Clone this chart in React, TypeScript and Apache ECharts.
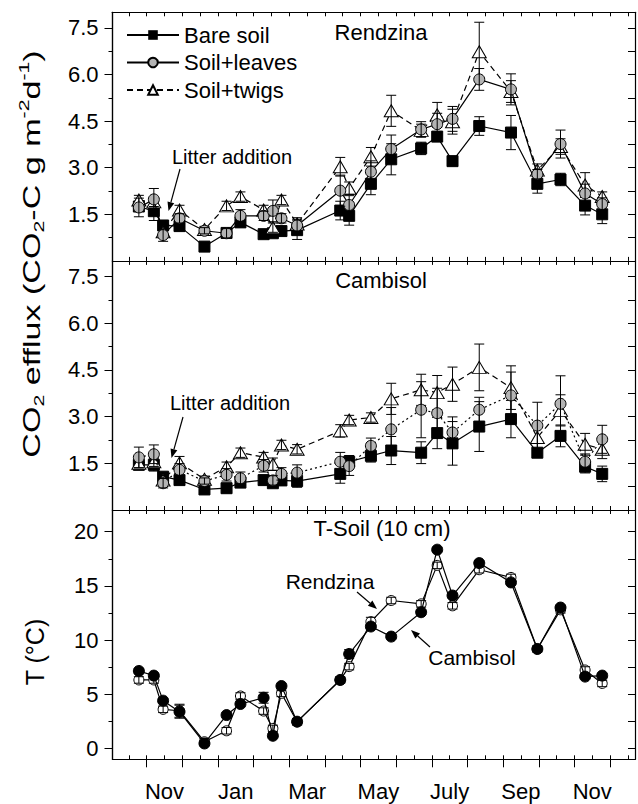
import React, { useEffect, useRef } from "react";
import * as echarts from "echarts";

// Sampling dates, in months counted from 1 November of the first year
const sampleMonths = [-0.22, 0.2, 0.46, 0.92, 1.62, 2.24, 2.63, 3.28, 3.54, 3.78, 4.22, 5.43, 5.68, 6.29, 6.86, 7.7, 8.15, 8.58, 9.33, 10.22, 10.96, 11.61, 12.3, 12.78];

// Rendzina CO2 efflux (CO2-C g m-2 d-1)
const rBare = [1.75, 1.6, 1.14, 1.12, 0.46, 0.9, 1.24, 0.86, 0.89, 0.96, 0.99, 1.62, 1.45, 2.48, 3.27, 3.62, 4.0, 3.21, 4.34, 4.13, 2.48, 2.62, 1.78, 1.5];
const rBareErr = [0.15, 0.3, 0.15, 0.15, 0.08, 0.1, 0.15, 0.08, 0.08, 0.08, 0.3, 0.3, 0.3, 0.35, 0.5, 0.2, 0.15, 0.15, 0.3, 0.55, 0.3, 0.2, 0.3, 0.3];
const rLeaves = [1.72, 1.98, 0.83, 1.37, 0.97, 0.89, 1.45, 1.45, 1.61, 1.37, 1.14, 2.26, 1.8, 2.87, 3.6, 4.23, 4.4, 4.57, 5.84, 5.52, 2.79, 3.76, 2.17, 1.83];
const rLeavesErr = [0.3, 0.35, 0.2, 0.15, 0.1, 0.15, 0.2, 0.15, 0.35, 0.15, 0.25, 0.5, 0.3, 0.35, 0.45, 0.25, 0.35, 0.4, 0.35, 0.5, 0.15, 0.45, 0.3, 0.2];
const rTwigs = [1.96, 1.9, 0.94, 1.64, 1.01, 1.77, 2.07, 1.64, 1.07, 1.96, 1.19, 3.03, 2.34, 3.35, 4.83, 4.2, 4.7, 4.48, 6.73, 5.45, 2.92, 3.68, 2.44, 2.07];
const rTwigsErr = [0.15, 0.15, 0.15, 0.15, 0.1, 0.15, 0.15, 0.15, 0.15, 0.15, 0.15, 0.3, 0.2, 0.3, 0.5, 0.2, 0.4, 0.4, 0.95, 0.35, 0.2, 0.25, 0.4, 0.15];

// Cambisol CO2 efflux
const cBare = [1.45, 1.45, 1.07, 0.96, 0.66, 0.7, 0.88, 0.96, 0.86, 0.95, 0.93, 1.16, 1.55, 1.74, 1.91, 1.84, 2.47, 2.14, 2.68, 2.92, 1.84, 2.38, 1.39, 1.16];
const cBareErr = [0.15, 0.2, 0.1, 0.1, 0.1, 0.15, 0.1, 0.15, 0.1, 0.15, 0.2, 0.3, 0.2, 0.2, 0.45, 0.35, 0.5, 0.7, 0.8, 0.6, 0.1, 0.35, 0.2, 0.25];
const cLeaves = [1.69, 1.79, 0.86, 1.29, 0.93, 1.13, 1.02, 1.42, 0.95, 1.16, 1.2, 1.55, 1.41, 2.06, 2.59, 3.22, 3.11, 2.49, 3.22, 3.68, 2.71, 3.41, 1.55, 2.27];
const cLeavesErr = [0.33, 0.3, 0.15, 0.2, 0.1, 0.2, 0.2, 0.2, 0.15, 0.2, 0.25, 0.3, 0.3, 0.25, 0.7, 0.9, 0.8, 0.5, 0.4, 0.75, 0.75, 0.9, 0.25, 0.45];
const cTwigs = [1.5, 1.55, 0.96, 1.52, 0.99, 1.39, 1.84, 1.7, 1.47, 2.09, 1.95, 2.54, 2.89, 2.97, 3.57, 3.86, 3.77, 4.04, 4.58, 3.93, 2.33, 3.2, 2.11, 1.95];
const cTwigsErr = [0.15, 0.15, 0.15, 0.2, 0.1, 0.15, 0.15, 0.15, 0.2, 0.15, 0.15, 0.2, 0.15, 0.15, 0.5, 0.5, 0.55, 0.55, 0.75, 0.7, 0.4, 0.5, 0.35, 0.3];

// Soil temperature at 10 cm (°C)
const tCambisol = [7.15, 6.72, 4.41, 3.39, 0.46, 3.08, 4.1, 4.68, 1.17, 5.76, 2.47, 6.32, 8.72, 11.25, 10.32, 12.57, 18.34, 14.11, 17.1, 15.32, 9.18, 13.0, 6.63, 6.72];
const tCambisolErr = [0.2, 0.2, 0.2, 0.6, 0.2, 0.2, 0.2, 0.5, 0.2, 0.2, 0.3, 0.2, 0.4, 0.2, 0.2, 0.2, 0.2, 0.2, 0.2, 0.2, 0.2, 0.2, 0.2, 0.2];
const tRendzina = [6.32, 6.32, 3.61, 3.48, 0.62, 1.63, 4.84, 3.45, 1.85, 5.08, 2.47, 6.32, 7.55, 11.7, 13.65, 13.34, 16.89, 13.16, 16.49, 15.78, 9.18, 12.79, 7.24, 6.0];
const tRendzinaErr = [0.3, 0.3, 0.3, 0.6, 0.3, 0.3, 0.3, 0.3, 0.3, 0.3, 0.3, 0.3, 0.3, 0.4, 0.3, 0.3, 0.3, 0.3, 0.3, 0.3, 0.3, 0.3, 0.3, 0.3];

// Axis ticks / labels
const monthLabels = ["Nov", "Jan", "Mar", "May", "July", "Sep", "Nov"];
const monthLabelPos = [0.5, 2.5, 4.5, 6.5, 8.5, 10.5, 12.5];
const monthStarts = [0, 1, 2, 3, 4, 5, 6, 7, 8, 9, 10, 11, 12, 13];
const halfMonths = [-0.5, 0, 0.5, 1, 1.5, 2, 2.5, 3, 3.5, 4, 4.5, 5, 5.5, 6, 6.5, 7, 7.5, 8, 8.5, 9, 9.5, 10, 10.5, 11, 11.5, 12, 12.5, 13, 13.5];
const co2Major = [1.5, 3.0, 4.5, 6.0, 7.5];
const co2Minor = [0.75, 2.25, 3.75, 5.25, 6.75];
const tMajor = [0, 5, 10, 15, 20];
const tMinor = [2.5, 7.5, 12.5, 17.5];

const FONT = '"Liberation Sans", Arial, Helvetica, sans-serif';
const X_MIN = -0.96;
const X_MAX = 13.7;

const pairs = (ys: number[]) => ys.map((y, i) => [sampleMonths[i], y]);
const triples = (ys: number[], es: number[]) => ys.map((y, i) => [sampleMonths[i], y, es[i]]);

function errorSeries(ys: number[], es: number[], axis: number, z: number, cap = 5) {
  return {
    type: "custom",
    xAxisIndex: axis * 2,
    yAxisIndex: axis * 3,
    z,
    silent: true,
    encode: { x: 0, y: 1 },
    data: triples(ys, es),
    renderItem: (params: any, api: any) => {
      const x = api.value(0);
      const y = api.value(1);
      const e = api.value(2);
      const a = api.coord([x, y + e]);
      const b = api.coord([x, y - e]);
      const st = { stroke: "#000", lineWidth: 1 };
      return {
        type: "group",
        children: [
          { type: "line", shape: { x1: a[0], y1: a[1], x2: b[0], y2: b[1] }, style: st },
          { type: "line", shape: { x1: a[0] - cap, y1: a[1], x2: a[0] + cap, y2: a[1] }, style: st },
          { type: "line", shape: { x1: b[0] - cap, y1: b[1], x2: b[0] + cap, y2: b[1] }, style: st },
        ],
      };
    },
  };
}

function arrow(x1: number, y1: number, x2: number, y2: number) {
  const ang = Math.atan2(y2 - y1, x2 - x1);
  const L = 9;
  const Wd = 3.5;
  const bx = x2 - L * Math.cos(ang);
  const by = y2 - L * Math.sin(ang);
  const px = -Math.sin(ang) * Wd;
  const py = Math.cos(ang) * Wd;
  return [
    { type: "line", shape: { x1, y1, x2: bx, y2: by }, style: { stroke: "#000", lineWidth: 1.2 } },
    {
      type: "polygon",
      shape: { points: [[x2, y2], [bx + px, by + py], [bx - px, by - py]] },
      style: { fill: "#000" },
    },
  ];
}

export default function App() {
  const ref = useRef<HTMLDivElement>(null);

  useEffect(() => {
    document.body.style.margin = "0";
    const chart = echarts.init(ref.current!, undefined, { renderer: "svg" });

    const grids = [
      { left: 112.5, right: 3, top: 12.3, height: 248.6 },
      { left: 112.5, right: 3, top: 260.9, height: 249.1 },
      { left: 112.5, right: 3, top: 510, height: 249.3 },
    ];
    const axisLine = { show: true, onZero: false, lineStyle: { color: "#000", width: 1.2 } };

    const xAxis: any[] = [];
    grids.forEach((_, g) => {
      xAxis.push({
        type: "value", gridIndex: g, position: "bottom", min: X_MIN, max: X_MAX,
        axisLine, splitLine: { show: false },
        axisTick: { show: true, inside: true, length: 4, customValues: halfMonths, lineStyle: { color: "#000" } },
        axisLabel: { show: false },
      });
      xAxis.push({
        type: "value", gridIndex: g, position: "top", min: X_MIN, max: X_MAX,
        axisLine, splitLine: { show: false },
        axisTick: { show: true, inside: true, length: 4, customValues: halfMonths, lineStyle: { color: "#000" } },
        axisLabel: { show: false },
      });
    });
    xAxis.push({
      type: "value", gridIndex: 2, position: "bottom", min: X_MIN, max: X_MAX,
      axisLine, splitLine: { show: false },
      axisTick: { show: true, inside: false, length: 8, customValues: monthStarts, lineStyle: { color: "#000" } },
      axisLabel: {
        show: true, customValues: monthLabelPos, margin: 21, color: "#000", fontSize: 22, fontFamily: FONT,
        formatter: (v: number, i: number) => monthLabels[monthLabelPos.indexOf(v)] ?? monthLabels[i],
      },
    });

    const yAxis: any[] = [];
    grids.forEach((_, g) => {
      const isT = g === 2;
      const min = isT ? -1 : 0;
      const max = isT ? 22 : 8;
      const major = isT ? tMajor : co2Major;
      const minor = isT ? tMinor : co2Minor;
      yAxis.push({
        type: "value", gridIndex: g, position: "left", min, max,
        axisLine, splitLine: { show: false },
        axisTick: { show: true, inside: false, length: 8, customValues: major, lineStyle: { color: "#000" } },
        axisLabel: {
          show: true, customValues: major, margin: 14, color: "#000", fontSize: 22, fontFamily: FONT,
          formatter: (v: number) => (isT ? String(v) : v.toFixed(1)),
        },
      });
      yAxis.push({
        type: "value", gridIndex: g, position: "left", min, max,
        axisLine, splitLine: { show: false },
        axisTick: { show: true, inside: false, length: 4, customValues: minor, lineStyle: { color: "#000" } },
        axisLabel: { show: false },
      });
      yAxis.push({
        type: "value", gridIndex: g, position: "right", min, max,
        axisLine, splitLine: { show: false },
        axisTick: { show: true, inside: true, length: 7, customValues: [...major, ...minor], lineStyle: { color: "#000" } },
        axisLabel: { show: false },
      });
    });

    const bareStyle = (name: string, ys: number[], g: number) => ({
      type: "line", name, xAxisIndex: g * 2, yAxisIndex: g * 3, data: pairs(ys),
      symbol: "rect", symbolSize: 11, z: 1,
      itemStyle: { color: "#000", borderColor: "#000" },
      lineStyle: { color: "#000", width: 1.2, type: "solid" },
      emphasis: { disabled: true },
    });
    const leavesStyle = (name: string, ys: number[], g: number, dash: any) => ({
      type: "line", name, xAxisIndex: g * 2, yAxisIndex: g * 3, data: pairs(ys),
      symbol: "circle", symbolSize: 11, z: 5,
      itemStyle: { color: "#b4b4b4", borderColor: "#000", borderWidth: 1 },
      lineStyle: { color: "#000", width: 1.2, type: dash },
      emphasis: { disabled: true },
    });
    const twigsStyle = (name: string, ys: number[], g: number) => ({
      type: "line", name, xAxisIndex: g * 2, yAxisIndex: g * 3, data: pairs(ys),
      symbol: "triangle", symbolSize: [14, 12], z: 3,
      itemStyle: { color: "#fff", borderColor: "#000", borderWidth: 1 },
      lineStyle: { color: "#000", width: 1.2, type: [6, 4] },
      emphasis: { disabled: true },
    });

    const series: any[] = [
      bareStyle("Bare soil", rBare, 0),
      errorSeries(rBare, rBareErr, 0, 2),
      twigsStyle("Soil+twigs", rTwigs, 0),
      errorSeries(rTwigs, rTwigsErr, 0, 4),
      leavesStyle("Soil+leaves", rLeaves, 0, "solid"),
      errorSeries(rLeaves, rLeavesErr, 0, 6),

      bareStyle("Bare soil (Cambisol)", cBare, 1),
      errorSeries(cBare, cBareErr, 1, 2),
      twigsStyle("Soil+twigs (Cambisol)", cTwigs, 1),
      errorSeries(cTwigs, cTwigsErr, 1, 4),
      leavesStyle("Soil+leaves (Cambisol)", cLeaves, 1, [2, 3]),
      errorSeries(cLeaves, cLeavesErr, 1, 6),

      {
        type: "line", name: "Rendzina", xAxisIndex: 4, yAxisIndex: 6, data: pairs(tRendzina),
        symbol: "circle", symbolSize: 10, z: 1,
        itemStyle: { color: "#fff", borderColor: "#000", borderWidth: 1 },
        lineStyle: { color: "#000", width: 1.2 },
        emphasis: { disabled: true },
      },
      errorSeries(tRendzina, tRendzinaErr, 2, 2, 5),
      {
        type: "line", name: "Cambisol", xAxisIndex: 4, yAxisIndex: 6, data: pairs(tCambisol),
        symbol: "circle", symbolSize: 11, z: 4,
        itemStyle: { color: "#000", borderColor: "#000" },
        lineStyle: { color: "#000", width: 1.2 },
        emphasis: { disabled: true },
      },
      errorSeries(tCambisol, tCambisolErr, 2, 5, 5),
    ];

    const txt = (text: string, x: number, y: number, size: number, extra: any = {}) => ({
      type: "text", x, y, silent: true,
      style: { text, fontSize: size, fontFamily: FONT, fill: "#000", align: "center", verticalAlign: "middle", ...extra },
    });

    const graphic: any[] = [
      txt("Rendzina", 381, 32, 22),
      txt("Cambisol", 381, 280, 22),
      txt("T-Soil (10 cm)", 382, 528, 22),
      txt("Litter addition", 232, 157, 20),
      txt("Litter addition", 230, 403, 20),
      txt("Rendzina", 330, 581, 21),
      txt("Cambisol", 472, 657, 21),
      ...arrow(180, 169, 168.5, 211),
      ...arrow(183, 417, 171.5, 458),
      ...arrow(357, 592, 377, 609),
      ...arrow(430, 647, 411, 630),
      {
        type: "text", x: 31, y: 254, rotation: Math.PI / 2, scaleX: 1.42, silent: true,
        style: {
          text: "{n|CO}{s|2}{n| efflux (CO}{s|2}{n|-C g m}{p|-2}{n|d}{p|-1}{n|)}",
          align: "center", verticalAlign: "middle", fill: "#000",
          rich: {
            n: { fontSize: 24, lineHeight: 30, fontFamily: FONT, fill: "#000" },
            s: { fontSize: 15, lineHeight: 15, verticalAlign: "bottom", fontFamily: FONT, fill: "#000" },
            p: { fontSize: 15, lineHeight: 15, verticalAlign: "top", fontFamily: FONT, fill: "#000" },
          },
        },
      },
      {
        type: "text", x: 35, y: 652, rotation: Math.PI / 2, silent: true,
        style: { text: "T (°C)", fontSize: 25, fontFamily: FONT, fill: "#000", align: "center", verticalAlign: "middle" },
      },
    ];

    chart.setOption({
      animation: false,
      backgroundColor: "#fff",
      grid: grids,
      xAxis,
      yAxis,
      legend: {
        data: ["Bare soil", "Soil+leaves", "Soil+twigs"],
        orient: "vertical",
        left: 126,
        top: 24,
        padding: 0,
        itemWidth: 52,
        itemHeight: 12,
        itemGap: 5.5,
        selectedMode: false,
        textStyle: { fontSize: 22, fontFamily: FONT, color: "#000", lineHeight: 22 },
      },
      series,
      graphic,
    });

    return () => chart.dispose();
  }, []);

  return <div ref={ref} style={{ width: 638, height: 804 }} />;
}
